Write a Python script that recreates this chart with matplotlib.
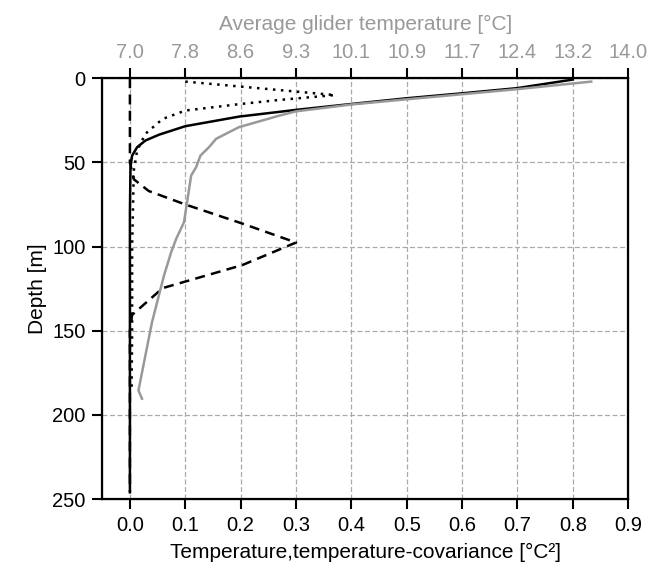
import numpy as np
import matplotlib
matplotlib.use("Agg")
from matplotlib import pyplot as plt

plt.rcParams["font.family"] = ["Liberation Sans", "DejaVu Sans"]
plt.rcParams["font.size"] = 15

# covariance profiles [degC^2] vs depth [m]
solidDepth = [0.8, 5.9, 8.9, 11.9, 15.3, 18.8, 22.8, 28.5, 33.5, 37, 41, 46, 52.9, 80, 150, 246]
solidCov = [0.8, 0.699, 0.602, 0.5, 0.4, 0.3, 0.197, 0.1, 0.053, 0.028, 0.013, 0.004, 0.001, 0.0, 0.0, 0.0]

dottedDepth = [2, 10, 12.9, 15.3, 19.2, 24.2, 33, 43, 54.9, 100, 150, 185]
dottedCov = [0.1, 0.37, 0.27, 0.2, 0.1, 0.059, 0.028, 0.013, 0.007, 0.004, 0.004, 0.003]

dashedDepth = [0, 50, 60, 67, 75, 86, 97.6, 111, 124.7, 140.6, 150, 246]
dashedCov = [0.0, 0.0, 0.007, 0.034, 0.1, 0.2, 0.3, 0.203, 0.059, 0.004, 0.0, 0.0]

# average glider temperature [degC]
tempDepth = [2, 6.5, 9.5, 12.5, 15.6, 19.7, 22.2, 29.1, 36, 41, 46, 52.9, 57.8, 71.7, 85.5, 95.4, 103.3, 117, 145, 185.5, 190.4]
tempValues = [13.48, 12.44, 11.67, 10.89, 10.11, 9.33, 9.10, 8.53, 8.21, 8.11, 7.99, 7.93, 7.86, 7.81, 7.76, 7.65, 7.58, 7.48, 7.31, 7.12, 7.17]

fig = plt.figure(figsize=(6.47, 5.71), dpi=100)
ax = fig.add_axes([0.158, 0.126, 0.813, 0.737])

ax.plot(solidCov, solidDepth, color="black", lw=1.8)
ax.plot(dottedCov, dottedDepth, color="black", lw=1.8, linestyle=(0, (1, 2.2)))
ax.plot(dashedCov, dashedDepth, color="black", lw=1.8, linestyle=(0, (4, 2.5)))

ax.set_xlim(-0.05, 0.9)
ax.set_ylim(250, 0)
ax.set_xticks(np.arange(0, 0.91, 0.1))
ax.set_xticklabels(["%.1f" % v for v in np.arange(0, 0.91, 0.1)])
ax.set_yticks([0, 50, 100, 150, 200, 250])
ax.grid(True, color="#aaaaaa", linestyle=(0, (4, 2)), lw=0.9)
ax.set_xlabel("Temperature,temperature-covariance [°C²]", labelpad=6)
ax.set_ylabel("Depth [m]")
ax.tick_params(direction="out", length=7, width=1.5, pad=5, labelsize=14.5)
for s in ax.spines.values():
    s.set_linewidth(1.6)

# temperature on a twin axis
ax2 = ax.twiny()
tmin = 7 - 0.05 * 7 / 0.9
ax2.set_xlim(tmin, 14)
ax2.plot(tempValues, tempDepth, color="#999999", lw=1.8)
tticks = np.linspace(7, 14, 10)
ax2.set_xticks(tticks)
ax2.set_xticklabels(["%.1f" % t for t in tticks], color="#999999")
ax2.set_xlabel("Average glider temperature [°C]", color="#999999", labelpad=9)
ax2.tick_params(direction="out", length=7, width=1.5, pad=5, labelsize=14.5)
ax2.set_ylim(250, 0)

plt.savefig("out.png", dpi=100)
